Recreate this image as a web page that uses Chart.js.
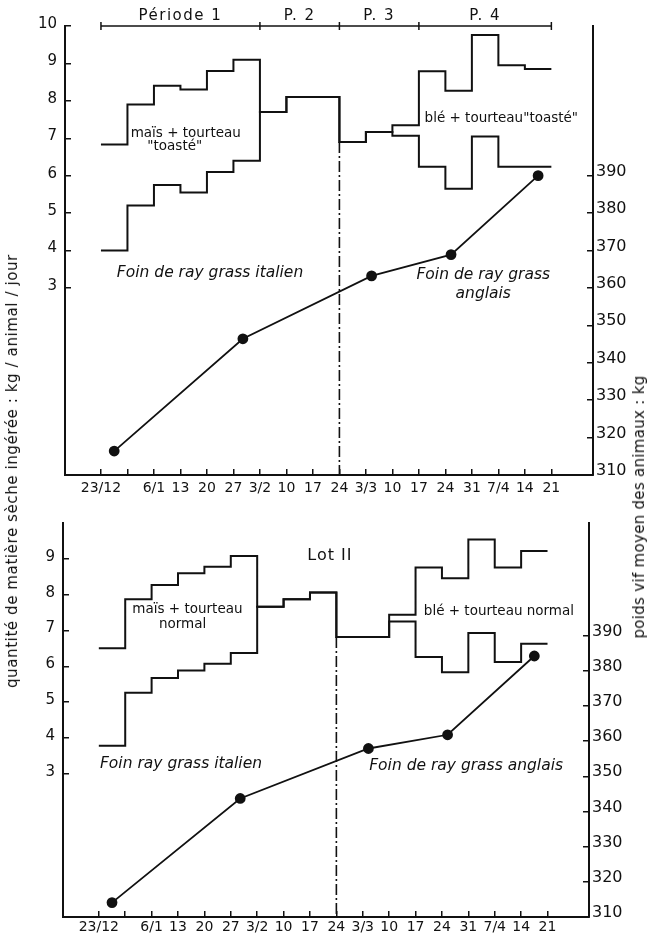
<!DOCTYPE html>
<html>
<head>
<meta charset="utf-8">
<script src="https://cdn.jsdelivr.net/npm/chart.js@4.4.1/dist/chart.umd.min.js"></script>
<style>
  body { margin: 0; background: #fff; }
  #wrap { position: relative; width: 647px; height: 940px; overflow: hidden; font-family: "DejaVu Sans", sans-serif; color: #111; }
  canvas { position: absolute; left: 0; }
  #top { top: 0; }
  #bottom { top: 500px; }
  .ytitle { position: absolute; white-space: nowrap; font-size: 15px; transform: translate(-50%, -50%) rotate(-90deg); }
</style>
</head>
<body>
<div id="wrap">
  <canvas id="top" width="647" height="500"></canvas>
  <canvas id="bottom" width="647" height="440"></canvas>
  <div class="ytitle" style="left:12px; top:471px; letter-spacing:0.6px">quantité de matière sèche ingérée : kg / animal / jour</div>
  <div class="ytitle" style="left:639px; top:507px; letter-spacing:0.3px">poids vif moyen des animaux : kg</div>
</div>
<script>
// weekly dates (days after 23/12)
const weekDays = [0, 7, 14, 21, 28, 35, 42, 49, 56, 63, 70, 77, 84, 91, 98, 105, 112, 119]
const xLabels = ['23/12', '', '6/1', '13', '20', '27', '3/2', '10', '17', '24', '3/3', '10', '17', '24', '31', '7/4', '14', '21']
const periodBounds = [0, 42, 63, 84, 119]
const periodNames = ['Période 1', 'P. 2', 'P. 3', 'P. 4']
const changeDay = 63

// intake, kg DM / animal / day, one value per week
const lot1Total = [6.83, 7.9, 8.4, 8.3, 8.8, 9.1, 7.7, 8.1, 8.1, 6.9, 7.17, 7.35, 8.79, 8.27, 9.76, 8.95, 8.85]
const lot1Hay = [4.0, 5.2, 5.75, 5.55, 6.1, 6.4, 7.7, 8.1, 8.1, 6.9, 7.17, 7.07, 6.24, 5.65, 7.05, 6.24, 6.24]
const lot2Total = [6.5, 7.87, 8.27, 8.6, 8.78, 9.08, 7.66, 7.87, 8.06, 6.82, 6.82, 7.44, 8.76, 8.46, 9.54, 8.76, 9.22]
const lot2Hay = [3.78, 5.26, 5.67, 5.88, 6.07, 6.37, 7.66, 7.87, 8.06, 6.82, 6.82, 7.25, 6.26, 5.83, 6.93, 6.12, 6.63]

// live weight, kg
const weighDays = [3.5, 37.5, 71.5, 92.5, 115.5]
const lot1Weight = [316.4, 346.4, 363.2, 368.9, 390]
const lot2Weight = [314.1, 343.7, 357.9, 361.8, 384.2]

const intakeTicks1 = [3, 4, 5, 6, 7, 8, 9, 10]
const intakeTicks2 = [3, 4, 5, 6, 7, 8, 9]
const weightTicks = [310, 320, 330, 340, 350, 360, 370, 380, 390]

const INK = '#111'
const FONT = 'DejaVu Sans'

function stepPoints(vals) {
  const pts = vals.map((v, i) => ({ x: weekDays[i], y: v }))
  pts.push({ x: weekDays[vals.length], y: vals[vals.length - 1] })
  return pts
}

function stepLine(vals) {
  return { data: stepPoints(vals), stepped: 'before', borderColor: INK, borderWidth: 2, pointRadius: 0, yAxisID: 'y' }
}

function weightLine(vals) {
  return {
    data: vals.map((v, i) => ({ x: weighDays[i], y: v })),
    borderColor: INK, borderWidth: 1.8, pointRadius: 4.5,
    pointBackgroundColor: INK, pointBorderColor: INK, yAxisID: 'y2'
  }
}

function dashDot(top, bottom) {
  return {
    data: [{ x: changeDay, y: top }, { x: changeDay, y: bottom }],
    borderColor: INK, borderWidth: 1.6, borderDash: [11, 3, 2, 3], pointRadius: 0, yAxisID: 'y'
  }
}

// text written on the plot, placed in data coordinates
function notesPlugin(notes) {
  return {
    id: 'notes',
    afterDatasetsDraw(chart) {
      const ctx = chart.ctx
      const xs = chart.scales.x
      const ys = chart.scales.y
      ctx.save()
      ctx.fillStyle = INK
      ctx.textBaseline = 'middle'
      notes.forEach(n => {
        ctx.font = n.font
        ctx.letterSpacing = n.spacing || '0px'
        ctx.textAlign = n.align || 'center'
        ctx.fillText(n.text, xs.getPixelForValue(n.x), ys.getPixelForValue(n.y) + (n.dy || 0))
      })
      ctx.restore()
    }
  }
}

function makeScales(o) {
  const tickGrid = { drawOnChartArea: false, drawTicks: true, tickLength: -6, color: INK, lineWidth: 1.5 }
  const border = { display: true, color: INK, width: 2 }
  return {
    x: {
      type: 'linear', position: 'bottom', min: -9.5, max: 130,
      border: border, grid: tickGrid,
      afterBuildTicks: s => { s.ticks = weekDays.map(v => ({ value: v })) },
      afterFit: s => { s.height = o.xHeight },
      ticks: {
        autoSkip: false, maxRotation: 0, padding: o.xPad, color: INK,
        font: { family: FONT, size: 14 },
        callback: (v, i) => xLabels[i]
      }
    },
    y: {
      type: 'linear', position: 'left', min: o.yMin, max: 10,
      border: border, grid: tickGrid,
      afterBuildTicks: s => { s.ticks = o.yTicks.map(v => ({ value: v })) },
      afterFit: s => { s.width = o.leftWidth },
      ticks: { padding: 14, labelOffset: -2, color: INK, font: { family: FONT, size: 15 } }
    },
    y2: {
      type: 'linear', position: 'right', min: 310, max: o.wMax,
      border: border, grid: tickGrid,
      afterBuildTicks: s => { s.ticks = weightTicks.map(v => ({ value: v })) },
      afterFit: s => { s.width = o.rightWidth },
      ticks: { padding: 9, labelOffset: -4, color: INK, font: { family: FONT, size: 16 } }
    }
  }
}

const italic = 'italic 15.5px ' + FONT
const plain = '13.5px ' + FONT

// Lot I (top panel)
const topNotes = [
  { text: 'maïs + tourteau', x: 22.4, y: 7.14, font: plain },
  { text: '"toasté"', x: 19.5, y: 6.79, font: plain },
  { text: 'blé + tourteau"toasté"', x: 85.5, y: 7.54, align: 'left', font: plain },
  { text: 'Foin de ray grass italien', x: 4.2, y: 3.4, align: 'left', font: italic },
  { text: 'Foin de ray grass', x: 101, y: 3.35, font: italic },
  { text: 'anglais', x: 101, y: 2.84, font: italic }
]
periodNames.forEach((name, i) => {
  topNotes.push({ text: name, x: (periodBounds[i] + periodBounds[i + 1]) / 2, y: 10, dy: -10, font: '15px ' + FONT, spacing: '1.5px' })
})

new Chart(document.getElementById('top'), {
  type: 'line',
  data: {
    datasets: [
      stepLine(lot1Total),
      stepLine(lot1Hay),
      dashDot(lot1Total[weekDays.indexOf(changeDay)], -2),
      weightLine(lot1Weight),
      {
        data: periodBounds.map(d => ({ x: d, y: 10 })),
        borderColor: INK, borderWidth: 1.5, pointStyle: 'line', pointRotation: 90,
        pointRadius: 4, pointBorderWidth: 1.5, pointBorderColor: INK, clip: false, yAxisID: 'y'
      }
    ]
  },
  options: {
    responsive: false, animation: false, events: [],
    layout: { padding: { top: 26, left: 0, right: 0, bottom: 0 } },
    plugins: { legend: { display: false }, tooltip: { enabled: false } },
    scales: makeScales({ xHeight: 25, xPad: 11, yMin: -2, yTicks: intakeTicks1, leftWidth: 65, rightWidth: 54, wMax: 430 })
  },
  plugins: [notesPlugin(topNotes)]
})

// Lot II (bottom panel)
const bottomNotes = [
  { text: 'Lot II', x: 55.3, y: 9.09, align: 'left', font: '16px ' + FONT, spacing: '1px' },
  { text: 'maïs + tourteau', x: 23.5, y: 7.58, font: plain },
  { text: 'normal', x: 22.2, y: 7.18, font: plain },
  { text: 'blé + tourteau normal', x: 86.2, y: 7.53, align: 'left', font: plain },
  { text: 'Foin ray grass italien', x: 0.3, y: 3.28, align: 'left', font: italic },
  { text: 'Foin de ray grass anglais', x: 71.7, y: 3.23, align: 'left', font: italic }
]

new Chart(document.getElementById('bottom'), {
  type: 'line',
  data: {
    datasets: [
      stepLine(lot2Total),
      stepLine(lot2Hay),
      dashDot(lot2Total[weekDays.indexOf(changeDay)], -1),
      weightLine(lot2Weight)
    ]
  },
  options: {
    responsive: false, animation: false, events: [],
    layout: { padding: { top: 13, left: 0, right: 0, bottom: 0 } },
    plugins: { legend: { display: false }, tooltip: { enabled: false } },
    scales: makeScales({ xHeight: 18, xPad: 8, yMin: -1, yTicks: intakeTicks2, leftWidth: 63, rightWidth: 58, wMax: 422 })
  },
  plugins: [notesPlugin(bottomNotes)]
})
</script>
</body>
</html>
